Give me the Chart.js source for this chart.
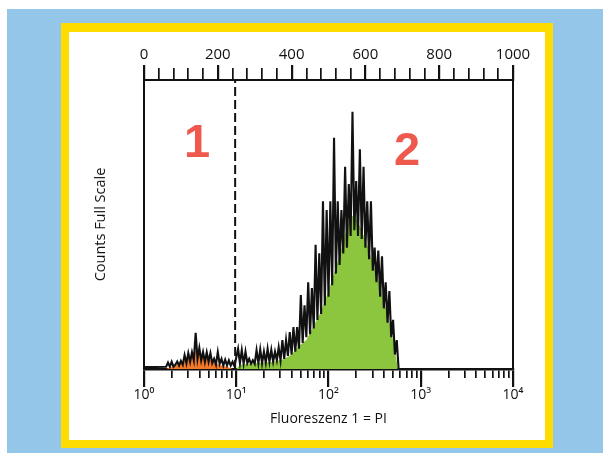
<!DOCTYPE html>
<html>
<head>
<meta charset="utf-8">
<script src="https://cdn.jsdelivr.net/npm/chart.js@4.4.0/dist/chart.umd.min.js"></script>
<style>
  body { margin: 0; background: #fff; width: 603px; height: 453px; overflow: hidden; position: relative; }
  #sky { position: absolute; left: 7px; top: 9px; width: 596px; height: 444px; background: #93c6e9; }
  #frame { position: absolute; left: 61px; top: 23px; width: 492px; height: 425px; background: #fedc00; }
  #paper { position: absolute; left: 69px; top: 32px; width: 476px; height: 408px; background: #fff; }
</style>
</head>
<body>
<div id="sky"></div>
<div id="frame"></div>
<div id="paper"><canvas id="facs_chart"></canvas></div>
<script>
// top axis: channel number 0..1000, bottom axis: same range as 10^0..10^4
const top_ticks = [0, 200, 400, 600, 800, 1000];
const top_labels = ['0', '200', '400', '600', '800', '1000'];
const top_minor_ticks = [0, 40, 80, 120, 160, 200, 240, 280, 320, 360, 400, 440, 480, 520, 560,
  600, 640, 680, 720, 760, 800, 840, 880, 920, 960, 1000];
const decade_ticks = [1, 10, 100, 1000, 10000];
const decade_labels = ['10⁰', '10¹', '10²', '10³', '10⁴'];
const log_minor_ticks = [1, 2, 3, 4, 5, 6, 7, 8, 9,
  10, 20, 30, 40, 50, 60, 70, 80, 90,
  100, 200, 300, 400, 500, 600, 700, 800, 900,
  1000, 2000, 3000, 4000, 5000, 6000, 7000, 8000, 9000, 10000];

// raw histogram (black trace), counts in % of full scale
const black_channels = [0, 30,
  60, 65, 70, 75, 80, 85, 90, 95, 100, 105,
  110, 115, 120, 125, 130, 135, 140, 145, 150, 155,
  160, 165, 170, 175, 180, 185, 190, 195, 200, 205,
  210, 215, 220, 225, 230, 235, 240, 245, 250, 255,
  260, 265, 270, 275, 280, 285, 290, 295, 300, 305,
  310, 315, 320, 325, 330, 335, 340, 345, 350, 355,
  360, 365, 370, 375, 380, 385, 390, 395, 400, 405,
  410, 415, 420, 425, 430, 435, 440, 445, 450, 455,
  460, 465, 470, 475, 480, 485, 490, 495, 500, 505,
  510, 515, 520, 525, 530, 535, 540, 545, 550, 555,
  560, 565, 570, 575, 580, 585, 590, 595, 600, 605,
  610, 615, 620, 625, 630, 635, 640, 645, 650, 655,
  660, 665, 670, 675, 680, 685, 690];
const black_counts = [0.7, 0.7,
  0.8, 2.2, 0.8, 2.5, 0.8, 1.5, 2.6, 1.2, 2.8, 1.5,
  4.8, 2, 5.5, 2.5, 5.8, 3, 12.5, 3.5, 7.3, 3,
  5.9, 2.5, 5.8, 2.5, 5.5, 2, 3.5, 1.5, 5.9, 1.8,
  3.5, 1.2, 3.2, 1.2, 3, 1.2, 2.5, 1, 4, 7,
  2, 6.5, 1.8, 6, 2, 3.5, 1.8, 3, 1.8, 6.5,
  2, 6.8, 2, 6, 2.2, 7, 2.5, 6.6, 2.5, 6,
  3, 7.5, 3, 10, 3.5, 10, 4.5, 12.8, 5, 14.5,
  6, 14.5, 7, 25.6, 9, 22, 11, 30, 12, 28,
  14, 43, 17, 40, 19, 58, 22, 55, 25, 58,
  29, 80, 33, 58, 36, 55, 40, 70, 42, 64,
  46, 89, 48, 65, 46, 76, 45, 70, 42, 58,
  38, 58, 34, 42, 30, 41, 25, 39, 21, 30,
  16, 27, 11, 17, 5, 10, 0];

// region 2 (green) and region 1 (orange) fills
const green_channels = [250, 260, 300, 350, 380, 400, 420, 440, 460, 480, 500, 520,
  540, 555, 565, 575, 590, 610, 630, 650, 665, 675, 683, 688];
const green_counts = [0, 1.5, 2, 2.5, 3.5, 5, 8, 10, 15, 20, 27, 35,
  44, 51, 53, 52, 48, 41, 33, 24, 16, 10, 4, 0];
const orange_channels = [60, 84, 110, 130, 138, 150, 165, 180, 192, 210, 225, 240];
const orange_counts = [0, 1.2, 2.8, 4, 6.5, 5, 4, 3.2, 2, 1.2, 0.8, 0];

const gate_channel = 247;
const region_labels = ['1', '2'];
const region_label_channels = [144, 713];
const region_label_counts = [78, 75];

const ink = '#111111';
Chart.defaults.font.family = '"Open Sans", "DejaVu Sans", sans-serif';
Chart.defaults.color = ink;

function toPoints(xs, ys) {
  return xs.map(function(x, i) {
    return { x: x, y: ys[i] };
  });
}

const region_label_plugin = {
  id: 'region_labels',
  afterDatasetsDraw: function(chart) {
    const ctx = chart.ctx;
    const x_scale = chart.scales.xTop;
    const y_scale = chart.scales.y;
    ctx.save();
    ctx.font = 'bold 47px "Liberation Sans", Arial, sans-serif';
    ctx.fillStyle = '#ef584d';
    ctx.textAlign = 'center';
    ctx.textBaseline = 'middle';
    region_labels.forEach(function(txt, i) {
      ctx.fillText(txt, x_scale.getPixelForValue(region_label_channels[i]), y_scale.getPixelForValue(region_label_counts[i]));
    });
    ctx.restore();
  }
};

new Chart('facs_chart', {
  type: 'line',
  data: {
    datasets: [{
      label: 'Gate',
      data: toPoints([gate_channel, gate_channel], [0, 100]),
      borderColor: ink,
      borderWidth: 2,
      borderDash: [9, 4],
      pointRadius: 0,
      xAxisID: 'xTop',
      order: 0
    }, {
      label: 'Counts',
      data: toPoints(black_channels, black_counts),
      borderColor: ink,
      borderWidth: 2.1,
      pointRadius: 0,
      tension: 0,
      fill: false,
      xAxisID: 'xTop',
      order: 1
    }, {
      label: 'Region 2',
      data: toPoints(green_channels, green_counts),
      borderColor: 'rgba(0,0,0,0)',
      borderWidth: 0,
      backgroundColor: '#8cc63f',
      pointRadius: 0,
      fill: 'origin',
      xAxisID: 'xTop',
      order: 2
    }, {
      label: 'Region 1',
      data: toPoints(orange_channels, orange_counts),
      borderColor: 'rgba(0,0,0,0)',
      borderWidth: 0,
      backgroundColor: '#f47a2a',
      pointRadius: 0,
      fill: 'origin',
      xAxisID: 'xTop',
      order: 3
    }]
  },
  options: {
    responsive: true,
    maintainAspectRatio: false,
    animation: false,
    layout: { padding: { left: 20, right: 32, top: 0, bottom: 9 } },
    plugins: {
      legend: { display: false },
      tooltip: { enabled: false }
    },
    scales: {
      xTop: {
        type: 'linear', position: 'top', min: 0, max: 1000, weight: 0,
        afterBuildTicks: function(s) { s.ticks = top_minor_ticks.map(function(v) { return { value: v }; }); },
        afterFit: function(s) { s.height = 12; },
        ticks: { display: false },
        grid: {
          drawOnChartArea: false, tickLength: 12, color: ink,
          lineWidth: function(c) { return c.tick && c.tick.value % 200 === 0 ? 2.2 : 1.7; }
        },
        border: { display: true, color: ink, width: 2 }
      },
      xTopLabels: {
        type: 'linear', position: 'top', min: 0, max: 1000, weight: 1,
        afterBuildTicks: function(s) { s.ticks = top_ticks.map(function(v) { return { value: v }; }); },
        afterFit: function(s) { s.height = 36; },
        ticks: {
          autoSkip: false, maxRotation: 0, padding: 1, font: { size: 15 },
          callback: function(v, i) { return top_labels[i]; }
        },
        grid: { drawOnChartArea: false, tickLength: 3, color: ink, lineWidth: 2.2 },
        border: { display: false }
      },
      xLog: {
        type: 'logarithmic', position: 'bottom', min: 1, max: 10000, weight: 0,
        afterBuildTicks: function(s) { s.ticks = log_minor_ticks.map(function(v) { return { value: v }; }); },
        afterFit: function(s) { s.height = 9; },
        ticks: { display: false, autoSkip: false },
        grid: {
          drawOnChartArea: false, tickLength: 9, color: ink,
          lineWidth: function(c) { return c.tick && decade_ticks.indexOf(c.tick.value) >= 0 ? 2.2 : 1.7; }
        },
        border: { display: true, color: ink, width: 2.5 }
      },
      xLogLabels: {
        type: 'logarithmic', position: 'bottom', min: 1, max: 10000, weight: 1,
        afterBuildTicks: function(s) { s.ticks = decade_ticks.map(function(v) { return { value: v }; }); },
        afterFit: function(s) { s.height = 53; },
        ticks: {
          autoSkip: false, maxRotation: 0, padding: 0, font: { size: 14 },
          callback: function(v, i) { return decade_labels[i]; }
        },
        grid: { drawOnChartArea: false, tickLength: 9, color: ink, lineWidth: 2.2 },
        border: { display: false },
        title: { display: true, text: 'Fluoreszenz 1 = PI', font: { size: 14 }, padding: { top: 0, bottom: 4 } }
      },
      y: {
        type: 'linear', position: 'left', min: 0, max: 100,
        afterFit: function(s) { s.width = 55; },
        ticks: { display: false },
        grid: { display: false },
        border: { display: true, color: ink, width: 2 },
        title: { display: true, text: 'Counts Full Scale', font: { size: 14.5 }, padding: { top: 3, bottom: 0 } }
      },
      yRight: {
        type: 'linear', position: 'right', min: 0, max: 100,
        afterFit: function(s) { s.width = 0; },
        ticks: { display: false },
        grid: { display: false },
        border: { display: true, color: ink, width: 2 }
      }
    }
  },
  plugins: [region_label_plugin]
});
</script>
</body>
</html>
